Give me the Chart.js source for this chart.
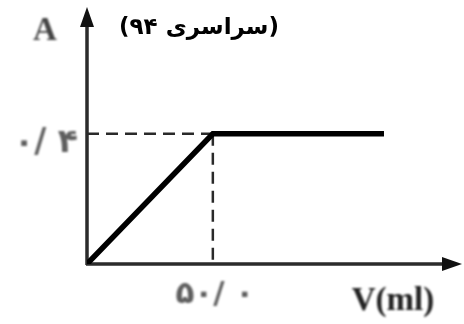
<!DOCTYPE html>
<html>
<head>
<meta charset="utf-8">
<script src="https://cdn.jsdelivr.net/npm/chart.js@4"></script>
<style>
  html, body { margin: 0; padding: 0; background: #fff; }
  #wrap { width: 464px; height: 324px; }
</style>
</head>
<body>
<div id="wrap"><canvas id="chart" width="464" height="324"></canvas></div>
<script>
// Absorbance vs. added volume: rises linearly, then levels off
const volumes = [0, 50, 118];
const absorbance = [0, 0.4, 0.4];

// Point where the two segments meet, marked with guide lines
const kneeV = 50;
const kneeA = 0.4;
const kneeLabelV = "۵۰/ ۰";
const kneeLabelA = "۰/ ۴";

const xLabel = "V(ml)";
const yLabel = "A";
const titleText = "(سراسری ۹۴)";

const xMax = 149;
const yMax = 0.79;

// Axes with arrowheads, axis labels and the title
const axesPlugin = {
  id: "axesArrows",
  beforeDatasetsDraw(chart) {
    const { ctx, scales } = chart;
    const x0 = scales.x.getPixelForValue(0);
    const y0 = scales.y.getPixelForValue(0);
    const xEnd = scales.x.getPixelForValue(xMax);
    const yEnd = scales.y.getPixelForValue(yMax);

    ctx.save();
    ctx.filter = "blur(0.4px)";
    ctx.strokeStyle = "#2b2b2b";
    ctx.fillStyle = "#111";
    ctx.lineWidth = 3.5;
    ctx.beginPath();
    ctx.moveTo(x0, y0 + 1);
    ctx.lineTo(x0, yEnd + 12);
    ctx.moveTo(x0 - 1, y0);
    ctx.lineTo(xEnd - 12, y0);
    ctx.stroke();

    // arrowheads
    ctx.beginPath();
    ctx.moveTo(x0, yEnd);
    ctx.lineTo(x0 - 7, yEnd + 20);
    ctx.lineTo(x0 + 7, yEnd + 20);
    ctx.closePath();
    ctx.fill();
    ctx.beginPath();
    ctx.moveTo(xEnd, y0);
    ctx.lineTo(xEnd - 20, y0 - 7);
    ctx.lineTo(xEnd - 20, y0 + 7);
    ctx.closePath();
    ctx.fill();
    ctx.restore();
  },
  afterDraw(chart) {
    const { ctx, scales } = chart;
    const kx = scales.x.getPixelForValue(kneeV);
    const ky = scales.y.getPixelForValue(kneeA);
    const y0 = scales.y.getPixelForValue(0);

    ctx.save();
    ctx.textAlign = "center";
    ctx.textBaseline = "alphabetic";

    // soft grey labels
    ctx.filter = "blur(0.9px)";
    ctx.fillStyle = "#5e5e5e";
    ctx.font = "bold 33px 'DejaVu Sans'";
    ctx.fillText(kneeLabelA, 46, ky + 18);
    ctx.font = "bold 31px 'DejaVu Sans'";
    ctx.fillText(kneeLabelV, kx + 2, y0 + 39);
    ctx.fillStyle = "#444";
    ctx.font = "bold 33px 'Liberation Serif'";
    ctx.fillText(yLabel, 45, 40);
    ctx.fillStyle = "#222";
    ctx.fillText(xLabel, 393, 310);

    // title
    ctx.filter = "none";
    ctx.fillStyle = "#000";
    ctx.font = "bold 23px 'DejaVu Sans'";
    ctx.direction = "rtl";
    ctx.fillText(titleText, 199, 34);
    ctx.restore();
  }
};

new Chart(document.getElementById("chart"), {
  type: "line",
  data: {
    datasets: [
      {
        data: volumes.map((v, i) => ({ x: v, y: absorbance[i] })),
        borderColor: "#000",
        borderWidth: 5.5,
        pointRadius: 0,
        tension: 0,
        borderCapStyle: "butt",
        borderJoinStyle: "miter",
        order: 0
      },
      {
        // horizontal guide to the y axis
        data: [{ x: 0, y: kneeA }, { x: kneeV, y: kneeA }],
        borderColor: "#2a2a2a",
        borderWidth: 2.5,
        borderDash: [12, 7],
        pointRadius: 0,
        order: 1
      },
      {
        // vertical guide to the x axis
        data: [{ x: kneeV, y: kneeA }, { x: kneeV, y: 0 }],
        borderColor: "#2a2a2a",
        borderWidth: 2.5,
        borderDash: [12, 7],
        pointRadius: 0,
        order: 1
      }
    ]
  },
  options: {
    responsive: false,
    animation: false,
    layout: { padding: { left: 87, right: 2, top: 7, bottom: 60 } },
    plugins: {
      legend: { display: false },
      tooltip: { enabled: false },
      title: { display: false }
    },
    scales: {
      x: { type: "linear", min: 0, max: xMax, display: false },
      y: { type: "linear", min: 0, max: yMax, display: false }
    }
  },
  plugins: [axesPlugin]
});
</script>
</body>
</html>
